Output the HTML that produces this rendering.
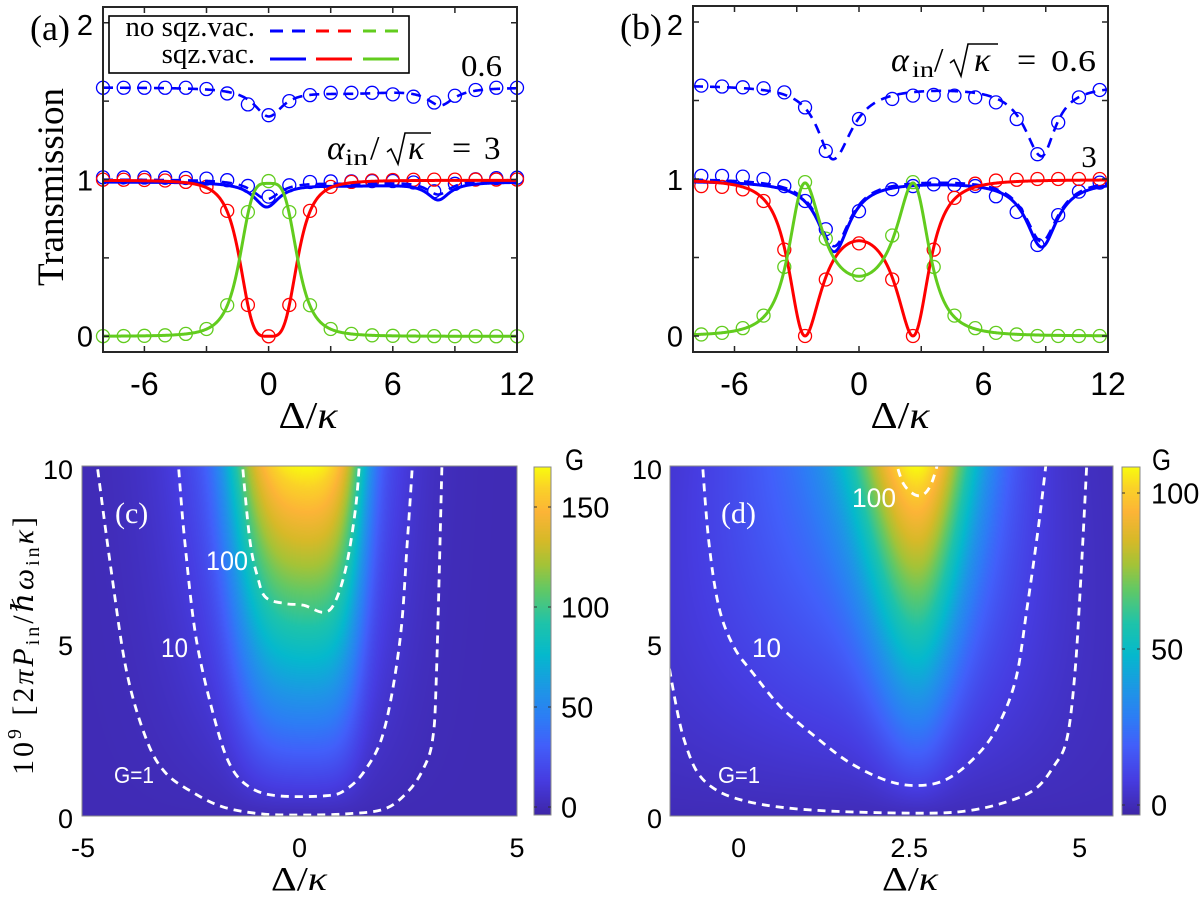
<!DOCTYPE html>
<html><head><meta charset="utf-8">
<style>
html,body{margin:0;padding:0;background:#fff;width:1199px;height:899px;overflow:hidden;}
#root{position:relative;width:1199px;height:899px;background:#fff;}
canvas{position:absolute;display:block;}
#s{position:absolute;left:0;top:0;}
</style></head><body><div id="root">
<canvas id="hc" width="435" height="350" style="left:82px;top:466px;width:435px;height:350px"></canvas>
<canvas id="hd" width="443" height="350" style="left:670px;top:466px;width:443px;height:350px"></canvas>
<canvas id="cbc" width="17" height="348" style="left:534px;top:467px;width:17px;height:348px"></canvas>
<canvas id="cbd" width="18" height="348" style="left:1122px;top:467px;width:18px;height:348px"></canvas>
<svg id="s" xmlns="http://www.w3.org/2000/svg" width="1199" height="899" font-family="'Liberation Sans', sans-serif">
<defs>
<clipPath id="ca"><rect x="103" y="7" width="414" height="345"/></clipPath>
<clipPath id="cb"><rect x="693" y="6" width="415" height="346"/></clipPath>
<clipPath id="cc"><rect x="82" y="466" width="435" height="350"/></clipPath>
<clipPath id="cd"><rect x="670" y="466" width="443" height="350"/></clipPath>
</defs>
<g id="ga"></g>
<g id="gb"></g>
<g id="gc" clip-path="url(#cc)"></g>
<g id="gd" clip-path="url(#cd)"></g>

<!-- panel a frame -->
<rect x="103" y="7" width="414" height="345" fill="none" stroke="#262626" stroke-width="2"/>
<path d="M144.4,352v-6M144.4,7v6M206.5,352v-6M206.5,7v6M268.6,352v-6M268.6,7v6M330.7,352v-6M330.7,7v6M392.8,352v-6M392.8,7v6M454.9,352v-6M454.9,7v6M103,336.3h6M517,336.3h-6M103,257.9h6M517,257.9h-6M103,179.5h6M517,179.5h-6M103,101.1h6M517,101.1h-6M103,22.7h6M517,22.7h-6" stroke="#262626" stroke-width="1.5" fill="none"/>
<!-- legend -->
<rect x="109" y="16" width="300" height="57" fill="#fff" stroke="#000" stroke-width="1.6"/>
<text x="255" y="36" text-anchor="end" font-family="'Liberation Serif', serif" font-size="29">no sqz.vac.</text>
<text x="255" y="63" text-anchor="end" font-family="'Liberation Serif', serif" font-size="29">sqz.vac.</text>
<path d="M270,31h36" stroke="#0000ff" stroke-width="3" stroke-dasharray="13 9"/>
<path d="M316,31h36" stroke="#ff0000" stroke-width="3" stroke-dasharray="13 9"/>
<path d="M363,31h36" stroke="#62cc1e" stroke-width="3" stroke-dasharray="13 9"/>
<path d="M270,59h36" stroke="#0000ff" stroke-width="3"/>
<path d="M316,59h36" stroke="#ff0000" stroke-width="3"/>
<path d="M363,59h36" stroke="#62cc1e" stroke-width="3"/>
<!-- panel a labels -->
<text x="30" y="40" font-family="'Liberation Serif', serif" font-size="36">(a)</text>
<text x="93" y="35" text-anchor="end" font-size="29">2</text>
<text x="93" y="190.5" text-anchor="end" font-size="29">1</text>
<text x="93" y="346.5" text-anchor="end" font-size="29">0</text>
<text x="144.4" y="395" text-anchor="middle" font-size="32">-6</text>
<text x="268.6" y="395" text-anchor="middle" font-size="32">0</text>
<text x="392.8" y="395" text-anchor="middle" font-size="32">6</text>
<text x="517" y="395" text-anchor="middle" font-size="32">12</text>
<text x="308" y="428" text-anchor="middle" font-family="'Liberation Serif', serif" font-size="38" textLength="59" lengthAdjust="spacingAndGlyphs">Δ/<tspan font-style="italic">κ</tspan></text>
<text transform="translate(63,187) rotate(-90)" text-anchor="middle" font-family="'Liberation Serif', serif" font-size="37">Transmission</text>
<text x="461" y="76" font-family="'Liberation Serif', serif" font-size="31" textLength="41" lengthAdjust="spacingAndGlyphs">0.6</text>
<g font-family="'Liberation Serif', serif">
<text x="327" y="159" font-size="34" font-style="italic">α</text>
<text x="345" y="165" font-size="23" textLength="23" lengthAdjust="spacingAndGlyphs">in</text>
<text x="370" y="159" font-size="34">/</text>
<path d="M387,152 L391,149 L398,164 L405,133 L431,133" fill="none" stroke="#000" stroke-width="1.6"/>
<text x="408" y="159" font-size="34" font-style="italic">κ</text>
<text x="452" y="159" font-size="34">=</text>
<text x="484" y="159" font-size="33">3</text>
</g>

<!-- panel b frame -->
<rect x="693" y="6" width="415" height="346" fill="none" stroke="#262626" stroke-width="2"/>
<path d="M734.5,352v-6M734.5,6v6M796.75,352v-6M796.75,6v6M859,352v-6M859,6v6M921.25,352v-6M921.25,6v6M983.5,352v-6M983.5,6v6M1045.75,352v-6M1045.75,6v6M693,336h6M1108,336h-6M693,257.5h6M1108,257.5h-6M693,179h6M1108,179h-6M693,100.5h6M1108,100.5h-6M693,22h6M1108,22h-6" stroke="#262626" stroke-width="1.5" fill="none"/>
<text x="620" y="39" font-family="'Liberation Serif', serif" font-size="36">(b)</text>
<text x="683" y="35" text-anchor="end" font-size="29">2</text>
<text x="683" y="190" text-anchor="end" font-size="29">1</text>
<text x="683" y="346.5" text-anchor="end" font-size="29">0</text>
<text x="734.5" y="395" text-anchor="middle" font-size="32">-6</text>
<text x="859" y="395" text-anchor="middle" font-size="32">0</text>
<text x="983.5" y="395" text-anchor="middle" font-size="32">6</text>
<text x="1108" y="395" text-anchor="middle" font-size="32">12</text>
<text x="900" y="428" text-anchor="middle" font-family="'Liberation Serif', serif" font-size="38" textLength="59" lengthAdjust="spacingAndGlyphs">Δ/<tspan font-style="italic">κ</tspan></text>
<g font-family="'Liberation Serif', serif">
<text x="891" y="71" font-size="34" font-style="italic">α</text>
<text x="912" y="77" font-size="23" textLength="22" lengthAdjust="spacingAndGlyphs">in</text>
<text x="934" y="71" font-size="34">/</text>
<path d="M950,63 L954,60 L961,76 L968,44 L998,44" fill="none" stroke="#000" stroke-width="1.6"/>
<text x="974" y="71" font-size="34" font-style="italic">κ</text>
<text x="1017" y="71" font-size="34">=</text>
<text x="1051" y="71" font-size="31" textLength="45" lengthAdjust="spacingAndGlyphs">0.6</text>
<text x="1089" y="167" text-anchor="middle" font-size="31">3</text>
</g>

<!-- panel c -->
<rect x="82" y="466" width="435" height="350" fill="none" stroke="#8a8a8a" stroke-width="1"/>
<rect x="534" y="467" width="17" height="348" fill="none" stroke="#8a8a8a" stroke-width="1"/>
<path d="M534,507h3M551,507h-3M534,607h3M551,607h-3M534,707h3M551,707h-3M534,807h3M551,807h-3" stroke="#333" stroke-width="1"/>
<text x="115" y="523" fill="#fff" font-family="'Liberation Serif', serif" font-size="30">(c)</text>
<text x="206" y="570" fill="#fff" font-size="27" textLength="42" lengthAdjust="spacingAndGlyphs">100</text>
<text x="161" y="657" fill="#fff" font-size="27" textLength="27" lengthAdjust="spacingAndGlyphs">10</text>
<text x="114" y="783" fill="#fff" font-size="23" textLength="40" lengthAdjust="spacingAndGlyphs">G=1</text>
<text x="73" y="479" text-anchor="end" font-size="27">10</text>
<text x="73" y="655" text-anchor="end" font-size="27">5</text>
<text x="73" y="828" text-anchor="end" font-size="27">0</text>
<text x="83" y="857" text-anchor="middle" font-size="27">-5</text>
<text x="299.5" y="857" text-anchor="middle" font-size="27">0</text>
<text x="517" y="857" text-anchor="middle" font-size="27">5</text>
<text x="299" y="890" text-anchor="middle" font-family="'Liberation Serif', serif" font-size="34" textLength="56" lengthAdjust="spacingAndGlyphs">Δ/<tspan font-style="italic">κ</tspan></text>
<text x="561" y="517.5" font-size="29">150</text>
<text x="561" y="617.5" font-size="29">100</text>
<text x="561" y="717.5" font-size="29">50</text>
<text x="561" y="817.5" font-size="29">0</text>
<text x="565" y="470" font-size="30" textLength="19" lengthAdjust="spacingAndGlyphs">G</text>
<text transform="translate(33,646) rotate(-90)" text-anchor="middle" font-family="'Liberation Serif', 'DejaVu Serif', serif" font-size="30" textLength="258" lengthAdjust="spacing">10<tspan font-size="20" dy="-12">9</tspan><tspan dy="12"> [2</tspan><tspan font-style="italic">πP</tspan><tspan font-size="20" dy="6">in</tspan><tspan dy="-6">/</tspan><tspan font-style="italic">ℏω</tspan><tspan font-size="20" dy="6">in</tspan><tspan dy="-6" font-style="italic">κ</tspan>]</text>

<!-- panel d -->
<rect x="670" y="466" width="443" height="350" fill="none" stroke="#8a8a8a" stroke-width="1"/>
<rect x="1122" y="467" width="18" height="348" fill="none" stroke="#8a8a8a" stroke-width="1"/>
<path d="M1122,493h3M1140,493h-3M1122,649h3M1140,649h-3M1122,805h3M1140,805h-3" stroke="#333" stroke-width="1"/>
<text x="721" y="523" fill="#fff" font-family="'Liberation Serif', serif" font-size="30">(d)</text>
<text x="852" y="507" fill="#fff" font-size="27" textLength="44" lengthAdjust="spacingAndGlyphs">100</text>
<text x="752" y="657" fill="#fff" font-size="27" textLength="29" lengthAdjust="spacingAndGlyphs">10</text>
<text x="718" y="783" fill="#fff" font-size="23" textLength="42" lengthAdjust="spacingAndGlyphs">G=1</text>
<text x="662" y="479" text-anchor="end" font-size="27">10</text>
<text x="662" y="655" text-anchor="end" font-size="27">5</text>
<text x="662" y="828" text-anchor="end" font-size="27">0</text>
<text x="738.7" y="857" text-anchor="middle" font-size="27">0</text>
<text x="909.2" y="857" text-anchor="middle" font-size="27">2.5</text>
<text x="1079.7" y="857" text-anchor="middle" font-size="27">5</text>
<text x="910" y="890" text-anchor="middle" font-family="'Liberation Serif', serif" font-size="34" textLength="56" lengthAdjust="spacingAndGlyphs">Δ/<tspan font-style="italic">κ</tspan></text>
<text x="1151" y="503.5" font-size="29">100</text>
<text x="1151" y="659.5" font-size="29">50</text>
<text x="1151" y="815.5" font-size="29">0</text>
<text x="1152" y="470" font-size="30" textLength="19" lengthAdjust="spacingAndGlyphs">G</text>
</svg>
</div>
<script>
(function(){
var NS='http://www.w3.org/2000/svg';
function add(p,tag,a){var e=document.createElementNS(NS,tag);for(var k in a)e.setAttribute(k,a[k]);p.appendChild(e);return e;}
function curve(g,f,x0,x1,X,Y,a){var d='';var n=500;for(var i=0;i<=n;i++){var x=x0+(x1-x0)*i/n;d+=(i?'L':'M')+X(x).toFixed(2)+','+Y(f(x)).toFixed(2);}a.d=d;a.fill='none';add(g,'path',a);}
function circ(g,xs,vs,X,Y,c){for(var i=0;i<xs.length;i++)add(g,'circle',{cx:X(xs[i]).toFixed(2),cy:Y(vs[i]).toFixed(2),r:6.5,fill:'none',stroke:c,'stroke-width':1.3});}
var B='#0000ff',R='#ff0000',G='#62cc1e';
function sq(x){return x*x;}
// ---------- panel a
var ga=document.getElementById('ga');
var Xa=function(x){return 103+(x+8)*20.7;}, Ya=function(v){return 336.3-v*156.8;};
var Ua=function(x){return 1.588-0.18/(1+sq(x/0.85))-0.11/(1+sq((x-8.3)/0.8))-0.03*Math.exp(-sq((x-4)/3));};
var Sa=function(x){return 0.985-0.155/(1+sq((x+0.1)/0.75))-0.11/(1+sq((x-8.2)/0.65))-0.02*Math.exp(-sq((x-4)/3.5));};
var Da=function(x){return 1.0-0.12/(1+sq((x+0.1)/0.8))-0.09/(1+sq((x-8.2)/0.7))-0.02*Math.exp(-sq((x-4)/3.5));};
var gaF=function(x){return 0.975/(1+sq(x*x/2));};
var raF=function(x){return 0.995*(1-1/(1+sq(x*x/2)));};
var xa=[];for(var i=-8;i<=12;i++)xa.push(i);
var ua=[1.585,1.585,1.585,1.585,1.585,1.577,1.549,1.479,1.41,1.5,1.538,1.553,1.553,1.553,1.543,1.528,1.491,1.534,1.571,1.585,1.585];
circ(ga,xa,ua,Xa,Ya,B);
circ(ga,xa,xa.map(function(x){return Da(x)+0.015;}),Xa,Ya,B);
circ(ga,xa,xa.map(function(x){return 1-1/(1+sq(x*x/2));}),Xa,Ya,R);
circ(ga,xa,xa.map(function(x){return 0.99/(1+sq(x*x/2));}),Xa,Ya,G);
var gal=add(ga,'g',{'clip-path':'url(#ca)'});
curve(gal,Ua,-8,12,Xa,Ya,{stroke:B,'stroke-width':2.6,'stroke-dasharray':'10 7'});
curve(gal,Da,-8,12,Xa,Ya,{stroke:B,'stroke-width':2.6,'stroke-dasharray':'10 7'});
curve(gal,Sa,-8,12,Xa,Ya,{stroke:B,'stroke-width':3});
curve(gal,raF,-8,12,Xa,Ya,{stroke:R,'stroke-width':3});
curve(gal,gaF,-8,12,Xa,Ya,{stroke:G,'stroke-width':3});
// ---------- panel b
var gb=document.getElementById('gb');
var Xb=function(x){return 693+(x+8)*20.75;}, Yb=function(v){return 336-v*157;};
var Ub=function(x){var w1=x<-1.25?0.9:1.1;var w2=x<8.8?1.0:0.8;return 1.6-0.47/(1+sq((x+1.25)/w1))-0.45/(1+sq((x-8.8)/w2));};
var Lb=function(x){return 0.99-0.45/(1+sq((x+1.2)/0.9))-0.42/(1+sq((x-8.8)/0.9));};
var Db=function(x){return 1.005-0.43/(1+sq((x+1.2)/0.95))-0.40/(1+sq((x-8.8)/0.95));};
var gbF=function(x){return 0.975/(1+sq((x*x-6.76)/5.41));};
var rbF=function(x){return 0.995*(1-1/(1+sq((x*x-6.76)/5.41)));};
var xb=[-7.6,-6.6,-5.6,-4.6,-3.6,-2.6,-1.6,0,1.6,2.6,3.6,4.6,5.6,6.6,7.6,8.6,9.6,10.6,11.6];
circ(gb,xb,[1.595,1.589,1.584,1.578,1.552,1.456,1.179,1.382,1.51,1.531,1.536,1.531,1.52,1.488,1.382,1.158,1.36,1.52,1.567],Xb,Yb,B);
circ(gb,xb,[1.02,1.02,1.015,1.0,0.955,0.86,0.68,0.795,0.935,0.955,0.966,0.962,0.955,0.89,0.79,0.58,0.77,0.92,0.977],Xb,Yb,B);
circ(gb,xb,[0.955,0.95,0.934,0.86,0.55,0.0,0.36,0.59,0.36,0.0,0.55,0.88,0.97,0.99,0.995,1.0,1.0,1.0,1.0],Xb,Yb,R);
circ(gb,xb,[0.01,0.02,0.05,0.13,0.44,0.98,0.62,0.39,0.64,0.98,0.44,0.13,0.05,0.02,0.01,0.0,0.0,0.0,0.0],Xb,Yb,G);
var gbl=add(gb,'g',{'clip-path':'url(#cb)'});
curve(gbl,Ub,-8,12,Xb,Yb,{stroke:B,'stroke-width':2.6,'stroke-dasharray':'10 7'});
curve(gbl,Db,-8,12,Xb,Yb,{stroke:B,'stroke-width':2.6,'stroke-dasharray':'10 7'});
curve(gbl,Lb,-8,12,Xb,Yb,{stroke:B,'stroke-width':3});
curve(gbl,rbF,-8,12,Xb,Yb,{stroke:R,'stroke-width':3});
curve(gbl,gbF,-8,12,Xb,Yb,{stroke:G,'stroke-width':3});
// ---------- colormap
var cm=[[0,62,38,168],[0.10,70,60,225],[0.20,66,95,250],[0.28,45,125,245],[0.36,30,150,230],[0.46,5,185,205],[0.55,30,195,170],[0.65,100,200,100],[0.72,165,195,55],[0.79,215,185,40],[0.87,252,180,55],[0.94,250,210,40],[1,249,251,14]];
function col(t){if(t<0)t=0;if(t>1)t=1;for(var i=1;i<cm.length;i++){if(t<=cm[i][0]){var a=cm[i-1],b=cm[i];var u=(t-a[0])/(b[0]-a[0]);return [a[1]+(b[1]-a[1])*u,a[2]+(b[2]-a[2])*u,a[3]+(b[3]-a[3])*u];}}return [249,251,14];}
function heat(id,W,H,x0,x1,f,vmin,vmax){var c=document.getElementById(id).getContext('2d');var im=c.createImageData(W,H);var dd=im.data;for(var py=0;py<H;py++){var P=10-(py+0.5)*10/H;for(var px=0;px<W;px++){var D=x0+(px+0.5)*(x1-x0)/W;var v=f(D,P);var k=col((v-vmin)/(vmax-vmin));var o=(py*W+px)*4;dd[o]=k[0];dd[o+1]=k[1];dd[o+2]=k[2];dd[o+3]=255;}}c.putImageData(im,0,0);}
function cbar(id,W,H){var c=document.getElementById(id).getContext('2d');var im=c.createImageData(W,H);var dd=im.data;for(var py=0;py<H;py++){var k=col(1-(py+0.5)/H);for(var px=0;px<W;px++){var o=(py*W+px)*4;dd[o]=k[0];dd[o+1]=k[1];dd[o+2]=k[2];dd[o+3]=255;}}c.putImageData(im,0,0);}
heat('hc',435,350,-5,5,function(D,P){
  var gm=17*P;var d=D-0.2;var s=0.85+0.015*P;
  var wc,wt;if(d<0){wc=1.8*s;wt=2.4;}else{wc=1.3*s;wt=1.7;}
  var q=d/wc;q=q*q;
  return gm*(0.6*Math.exp(-q*q)+0.4*Math.exp(-sq(d/wt)));
},-4,170);
heat('hd',443,350,-1,5.5,function(D,P){
  var gm=10.8*P;var d=D-2.62;var s=0.55+0.045*P;
  var wc,wt;if(d<0){wc=0.9*s;wt=2.6+0.12*(10-P);}else{wc=0.8*s;wt=1.45+0.05*(10-P);}
  return gm*(0.648*Math.exp(-sq(d/wc))+0.352*Math.exp(-sq(d/wt)));
},-3,108);
cbar('cbc',17,348);cbar('cbd',18,348);
// ---------- contours
function cr(pts){var d='M'+pts[0][0].toFixed(1)+','+pts[0][1].toFixed(1);for(var i=0;i<pts.length-1;i++){var p0=pts[i-1]||pts[i],p1=pts[i],p2=pts[i+1],p3=pts[i+2]||p2;var c1=[p1[0]+(p2[0]-p0[0])/6,p1[1]+(p2[1]-p0[1])/6];var c2=[p2[0]-(p3[0]-p1[0])/6,p2[1]-(p3[1]-p1[1])/6];d+='C'+c1[0].toFixed(1)+','+c1[1].toFixed(1)+' '+c2[0].toFixed(1)+','+c2[1].toFixed(1)+' '+p2[0].toFixed(1)+','+p2[1].toFixed(1);}return d;}
function cont(g,data,X,Y){add(g,'path',{d:cr(data.map(function(p){return [X(p[0]),Y(p[1])];})),fill:'none',stroke:'#fff','stroke-width':2.8,'stroke-dasharray':'8 6'});}
var Xc=function(x){return 82+(x+5)*43.5;}, Yc=function(p){return 816-p*35;};
var gc=document.getElementById('gc');
cont(gc,[[-4.68,10.3],[-4.32,6.93],[-3.97,4.1],[-3.52,2.19],[-3.09,1.25],[-2.46,0.68],[-1.76,0.26],[-0.87,0.06],[0.1,0.03],[1.07,0.06],[1.95,0.2],[2.48,0.68],[2.84,1.33],[3.06,2.19],[3.15,4.1],[3.28,10.3]],Xc,Yc);
cont(gc,[[-2.8,10.3],[-2.64,7.87],[-2.37,5.03],[-1.93,2.67],[-1.58,1.42],[-1.14,0.82],[-0.52,0.58],[0.62,0.58],[1.07,0.76],[1.52,1.33],[1.95,2.47],[2.31,5.03],[2.48,7.87],[2.61,10.3]],Xc,Yc);
cont(gc,[[-1.33,10.3],[-1.14,7.87],[-0.96,6.82],[-0.78,6.25],[-0.34,6.07],[0.1,6.02],[0.54,5.82],[0.8,6.07],[1.07,7.1],[1.29,8.8],[1.39,10.3]],Xc,Yc);
var Xd=function(x){return 670.5+(x+1)*68.2;}, Yd=function(p){return 816-p*35;};
var gd=document.getElementById('gd');
cont(gd,[[-1.05,4.6],[-0.915,3.13],[-0.8,2.18],[-0.63,1.33],[-0.41,0.85],[-0.07,0.52],[0.5,0.28],[1.34,0.14],[2.64,0.08],[3.32,0.14],[3.89,0.38],[4.34,0.76],[4.62,1.42],[4.81,2.18],[4.93,4.08],[5.02,6.92],[5.11,10.3]],Xd,Yd);
cont(gd,[[-0.54,10.3],[-0.44,7.87],[-0.29,5.97],[-0.07,4.83],[0.21,4.08],[0.61,3.13],[1.12,2.27],[1.63,1.52],[2.19,1.0],[2.64,0.87],[3.04,1.04],[3.43,1.61],[3.77,2.46],[4.06,3.89],[4.23,5.97],[4.4,8.34],[4.52,10.3]],Xd,Yd);
cont(gd,[[2.28,10.3],[2.42,9.48],[2.64,9.15],[2.81,9.43],[2.95,10.3]],Xd,Yd);
})();
</script>
</body></html>
